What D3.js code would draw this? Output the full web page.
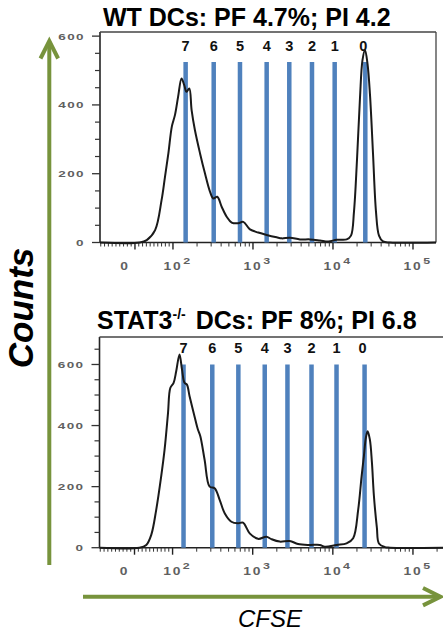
<!DOCTYPE html>
<html><head><meta charset="utf-8">
<script src="https://cdn.jsdelivr.net/npm/d3@7"></script>
<style>
html,body{margin:0;padding:0;background:#fff;}
svg{display:block;}
</style></head>
<body>
<svg id="c" width="443" height="632"></svg>
<script>
// ---------------- data ----------------
const generationLabels = ["7","6","5","4","3","2","1","0"];
const xTickValues = [0, 1e2, 1e3, 1e4, 1e5];
const xTickExponents = ["", "2", "3", "4", "5"];
const yTickValues = [0, 200, 400, 600];

const wtTitle = "WT DCs: PF 4.7%; PI 4.2";
const koTitleMain = "STAT3";
const koTitleSup = "-/-";
const koTitleRest = " DCs: PF 8%; PI 6.8";

const wtGates = [144, 323, 688, 1483, 2843, 5465, 10500, 25350];
const koGates = [137, 313, 662, 1413, 2715, 5420, 11120, 24900];
const wtGateHeight = 525;
const koGateHeight = 600;

const wtCFSE = [-92, 13, 31, 53, 70, 79, 88, 97, 106, 116, 128, 138, 148, 160, 171, 188, 218, 251, 290, 319, 358, 406, 469, 542, 655, 757, 917, 1165, 1483, 1977, 2284, 2900, 3868, 5158, 6879, 8735, 11130, 14840, 16790, 18300, 19950, 21750, 23370, 25120, 27000, 29000, 31620, 34470, 37580, 42170, 51580, 193900];
const wtCounts = [0, 0, 7, 36, 123, 191, 260, 337, 371, 424, 477, 458, 438, 448, 385, 327, 259, 201, 148, 128, 133, 104, 75, 58, 56, 60, 38, 29, 22, 15, 12, 14, 9, 9, 6, 3, 8, 9, 20, 90, 240, 420, 530, 560, 520, 430, 260, 90, 20, 3, 0, 0];

const koCFSE = [-92, 13, 31, 44, 57, 70, 79, 88, 94, 103, 111, 122, 131, 141, 151, 163, 188, 207, 222, 251, 290, 335, 387, 447, 542, 655, 757, 917, 1165, 1483, 1713, 2175, 2900, 3680, 5158, 6879, 7943, 11130, 14840, 17940, 20710, 22840, 24410, 25850, 27160, 29000, 30730, 32550, 35480, 37580, 44670, 51580, 237100];
const koCounts = [0, 0, 9, 42, 124, 233, 321, 441, 523, 540, 578, 633, 584, 540, 534, 496, 430, 387, 365, 288, 200, 195, 157, 113, 85, 80, 82, 47, 29, 36, 28, 20, 22, 12, 9, 9, 3, 9, 14, 31, 124, 233, 300, 360, 381, 354, 280, 170, 65, 14, 2, 0, 0];

// ---------------- drawing ----------------
const FONT = "'Liberation Sans', Arial, Helvetica, sans-serif";
const GREEN = "#77933C";
const BLUE = "#4F81BD";
const svg = d3.select("#c");

// logicle-like display transform (linear below 100, log above)
function tr(v){ return v >= 100 ? Math.log10(v) : 2 - 0.475 * (1 - v / 100); }

const xMinor = [];
for (let k = 1; k <= 9; k++) { xMinor.push(-k * 10); xMinor.push(k * 10); }
[100, 1000, 10000, 100000].forEach(d => { for (let k = 2; k <= 9; k++) xMinor.push(k * d); });

function panel(cfg){
  const g = svg.append("g");
  const tx = d3.scaleLinear().domain([tr(cfg.xMin), tr(cfg.xMax)]).range([cfg.left, cfg.right]);
  const x = v => tx(tr(v));
  const y = d3.scaleLinear().domain([0, cfg.yMax]).range([cfg.bottom, cfg.top]);

  // frame
  g.append("line").attr("x1", cfg.left).attr("x2", cfg.left).attr("y1", cfg.top).attr("y2", cfg.bottom)
    .attr("stroke", "#222").attr("stroke-width", 1.6);
  g.append("line").attr("x1", cfg.left).attr("x2", cfg.right).attr("y1", cfg.top).attr("y2", cfg.top)
    .attr("stroke", "#444").attr("stroke-width", 1.3);
  g.append("line").attr("x1", cfg.left).attr("x2", cfg.right).attr("y1", cfg.bottom).attr("y2", cfg.bottom)
    .attr("stroke", "#222").attr("stroke-width", 1.6);
  if (cfg.rightBorder) {
    g.append("line").attr("x1", cfg.right).attr("x2", cfg.right).attr("y1", cfg.top).attr("y2", cfg.bottom)
      .attr("stroke", "#444").attr("stroke-width", 1.3);
  }

  // y ticks
  const yMinor = d3.range(50, cfg.yMax, 50).filter(v => v % 200 !== 0);
  g.selectAll(".ymin").data(yMinor).join("line")
    .attr("x1", cfg.left - 5).attr("x2", cfg.left).attr("y1", d => y(d)).attr("y2", d => y(d))
    .attr("stroke", "#333").attr("stroke-width", 1.2);
  g.selectAll(".ymaj").data(yTickValues).join("line")
    .attr("x1", cfg.left - 8).attr("x2", cfg.left).attr("y1", d => y(d)).attr("y2", d => y(d))
    .attr("stroke", "#333").attr("stroke-width", 1.3);
  g.selectAll(".ylab").data(yTickValues).join("text")
    .attr("transform", d => `translate(${cfg.left - 15},${y(d) + 3.5}) scale(1.38,1)`)
    .attr("text-anchor", "end").attr("font-family", FONT).attr("font-size", 9.8)
    .attr("font-weight", "bold").attr("fill", "#606060").attr("letter-spacing", 1)
    .text(d => d);

  // x ticks
  g.selectAll(".xmin").data(xMinor.filter(v => v > cfg.xMin && v < cfg.xMax)).join("line")
    .attr("x1", d => x(d)).attr("x2", d => x(d)).attr("y1", cfg.bottom).attr("y2", cfg.bottom + 4)
    .attr("stroke", "#333").attr("stroke-width", 1);
  g.selectAll(".xmaj").data(xTickValues).join("line")
    .attr("x1", d => x(d)).attr("x2", d => x(d)).attr("y1", cfg.bottom).attr("y2", cfg.bottom + 7)
    .attr("stroke", "#222").attr("stroke-width", 1.4);
  const lab = g.selectAll(".xlab").data(xTickValues).join("g")
    .attr("transform", (d, i) => `translate(${x(d) + (i === 0 ? -10 : 0)},${cfg.bottom + 27}) scale(1.38,1)`);
  lab.each(function(d, i){
    const t = d3.select(this).append("text")
      .attr("font-family", FONT).attr("font-size", 10).attr("font-weight", "bold")
      .attr("fill", "#606060").attr("letter-spacing", 1.3);
    if (i === 0) {
      t.attr("text-anchor", "middle").text("0");
    } else {
      t.attr("x", -6.8);
      t.append("tspan").text("10");
      t.append("tspan").attr("dy", -6).attr("font-size", 9).attr("dx", 0.5).text(xTickExponents[i]);
    }
  });

  // gates
  g.selectAll(".gate").data(cfg.gates).join("line")
    .attr("x1", d => x(d)).attr("x2", d => x(d)).attr("y1", cfg.bottom).attr("y2", y(cfg.gateHeight))
    .attr("stroke", BLUE).attr("stroke-width", 4.5);
  g.selectAll(".gl").data(cfg.gates).join("text")
    .attr("x", (d, i) => x(d) + (i === cfg.gates.length - 1 ? -2 : 0))
    .attr("y", y(cfg.gateHeight) - 11)
    .attr("text-anchor", "middle").attr("font-family", FONT).attr("font-size", 14.5)
    .attr("font-weight", "bold").attr("fill", "#111")
    .text((d, i) => generationLabels[i]);

  // histogram
  const pts = cfg.cfse.map((v, i) => [v, cfg.counts[i]]);
  const line = d3.line().x(d => x(d[0])).y(d => y(d[1])).curve(d3.curveCatmullRom.alpha(0.5));
  g.append("path").attr("d", line(pts)).attr("fill", "none")
    .attr("stroke", "#1a1a1a").attr("stroke-width", 2).attr("stroke-linejoin", "round");

  // title
  const tt = g.append("text").attr("x", cfg.titleX).attr("y", cfg.titleY)
    .attr("font-family", FONT).attr("font-size", 25).attr("font-weight", "bold").attr("fill", "#000");
  cfg.title(tt);
}

panel({
  left: 100, right: 436, top: 32, bottom: 242.5, rightBorder: true,
  xMin: -92, xMax: 193900, yMax: 612,
  gates: wtGates, gateHeight: wtGateHeight, cfse: wtCFSE, counts: wtCounts,
  titleX: 103, titleY: 26,
  title: t => t.text(wtTitle)
});

panel({
  left: 99.5, right: 443, top: 337, bottom: 547.7, rightBorder: false,
  xMin: -92, xMax: 237100, yMax: 690,
  gates: koGates, gateHeight: koGateHeight, cfse: koCFSE, counts: koCounts,
  titleX: 97, titleY: 329,
  title: t => {
    t.append("tspan").text(koTitleMain);
    t.append("tspan").attr("font-size", 14).attr("dy", -10).text(koTitleSup);
    t.append("tspan").attr("dy", 10).attr("dx", 3).text(koTitleRest);
  }
});

// green arrows
const arrows = svg.append("g").attr("stroke", GREEN).attr("stroke-width", 4).attr("fill", "none")
  .attr("stroke-linecap", "butt");
arrows.append("line").attr("x1", 49.3).attr("x2", 49.3).attr("y1", 565).attr("y2", 42);
arrows.append("path").attr("d", "M40.5,58.5 L49.3,41 L58.1,58.5").attr("stroke-linejoin", "miter");
arrows.append("line").attr("x1", 83).attr("x2", 440).attr("y1", 596.7).attr("y2", 596.7);
arrows.append("path").attr("d", "M423,588 L440.5,596.7 L423,605.4").attr("stroke-linejoin", "miter");

// axis titles
svg.append("text").attr("transform", "translate(33,308) rotate(-90)")
  .attr("text-anchor", "middle").attr("font-family", FONT).attr("font-size", 35)
  .attr("font-weight", "bold").attr("font-style", "italic").attr("fill", "#000").text("Counts");
svg.append("text").attr("x", 270).attr("y", 627)
  .attr("text-anchor", "middle").attr("font-family", FONT).attr("font-size", 24)
  .attr("font-style", "italic").attr("fill", "#000").text("CFSE");
</script>
</body></html>
